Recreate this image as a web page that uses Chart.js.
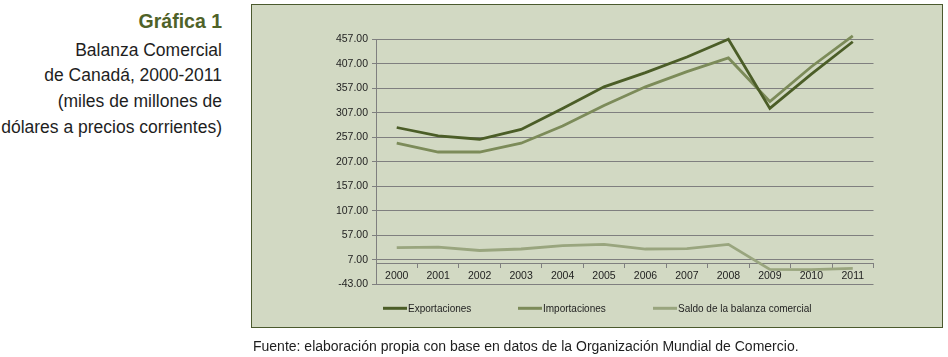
<!DOCTYPE html>
<html>
<head>
<meta charset="utf-8">
<script src="https://cdn.jsdelivr.net/npm/chart.js@4"></script>
<style>
  html, body { margin: 0; padding: 0; background: #ffffff; }
  body { width: 948px; height: 357px; position: relative; overflow: hidden; font-family: "Liberation Sans", Arial, sans-serif; }
  #box { position: absolute; left: 251px; top: 4px; width: 690px; height: 322px; background: #d2d9c3; border: 1.5px solid #4b5a2e; }
  #wrap { position: absolute; left: 0; top: 0; width: 948px; height: 357px; }
  .side { position: absolute; right: 726px; white-space: nowrap; color: #1e1e1e; font-size: 17.5px; line-height: 1; }
  .title { font-weight: bold; color: #4f6228; font-size: 19.5px; }
  #src { position: absolute; left: 253px; top: 339px; font-size: 14px; color: #1e1e1e; white-space: nowrap; line-height: 1; }
</style>
</head>
<body>
<div class="side title" style="top:12px">Gráfica 1</div>
<div class="side" style="top:42px">Balanza Comercial</div>
<div class="side" style="top:67px">de Canadá, 2000-2011</div>
<div class="side" style="top:93px">(miles de millones de</div>
<div class="side" style="top:118.5px">dólares a precios corrientes)</div>
<div id="box"></div>
<div id="wrap"><canvas id="c" width="948" height="357"></canvas></div>
<div id="src">Fuente: elaboración propia con base en datos de la Organización Mundial de Comercio.</div>
<script>
const years = ['2000','2001','2002','2003','2004','2005','2006','2007','2008','2009','2010','2011'];
const exportaciones = [277, 260, 253, 273, 316, 360, 389, 421, 457, 316, 386, 452];
const importaciones = [245, 227, 227, 245, 280, 322, 360, 391, 419, 330, 401, 464];
const saldo = [32, 33, 26, 29, 36, 38.5, 29, 30, 38.5, -12.5, -13, -10.5];
const yTicks = [-43, 7, 57, 107, 157, 207, 257, 307, 357, 407, 457];
const seriesNames = ['Exportaciones', 'Importaciones', 'Saldo de la balanza comercial'];

const FONT = '"Liberation Sans", Arial, sans-serif';
const GRID = '#7f7f7f';

const legendPlugin = {
  id: 'customLegend',
  afterDraw(chart) {
    const ctx = chart.ctx;
    const ca = chart.chartArea;
    const y = ca.bottom + 24;
    ctx.save();
    ctx.font = '10px ' + FONT;
    ctx.textBaseline = 'middle';
    ctx.textAlign = 'left';
    chart.data.datasets.forEach((ds, i) => {
      const x = ca.left + 7 + i * 135;
      ctx.strokeStyle = ds.borderColor;
      ctx.lineWidth = 3;
      ctx.beginPath();
      ctx.moveTo(x, y);
      ctx.lineTo(x + 24, y);
      ctx.stroke();
      ctx.fillStyle = '#1e1e1e';
      ctx.fillText(ds.label, x + 25, y + 0.5);
    });
    ctx.restore();
  }
};

new Chart(document.getElementById('c'), {
  type: 'line',
  data: {
    labels: years,
    datasets: [
      { label: seriesNames[0], data: exportaciones, borderColor: '#4b5d27', borderWidth: 2.8, clip: false },
      { label: seriesNames[1], data: importaciones, borderColor: '#7c8b59', borderWidth: 2.8, clip: false },
      { label: seriesNames[2], data: saldo, borderColor: '#99a57e', borderWidth: 2.8, clip: false }
    ]
  },
  options: {
    responsive: false,
    animation: false,
    devicePixelRatio: 1,
    elements: { point: { radius: 0, hoverRadius: 0 }, line: { tension: 0, borderCapStyle: 'butt' } },
    layout: { padding: { left: 336, right: 74.5, top: 39.3, bottom: 72.7 } },
    plugins: { legend: { display: false }, tooltip: { enabled: false } },
    scales: {
      x: {
        type: 'category',
        position: { y: 0 },
        offset: true,
        grid: { offset: true, drawOnChartArea: false, drawTicks: true, tickLength: 4, color: GRID },
        border: { display: true, color: GRID, width: 1 },
        ticks: { color: '#1e1e1e', font: { family: FONT, size: 10.5 }, padding: 3, maxRotation: 0, autoSkip: false }
      },
      y: {
        min: -43,
        max: 457,
        afterBuildTicks(scale) { scale.ticks = yTicks.map(v => ({ value: v })); },
        afterFit(scale) { scale.width = 40; },
        grid: { color: GRID, lineWidth: 1, tickLength: 4 },
        border: { display: true, color: GRID, width: 1 },
        ticks: {
          color: '#1e1e1e', font: { family: FONT, size: 10.5 }, padding: 4,
          callback: v => Number(v).toFixed(2)
        }
      }
    }
  },
  plugins: [legendPlugin]
});
</script>
</body>
</html>
